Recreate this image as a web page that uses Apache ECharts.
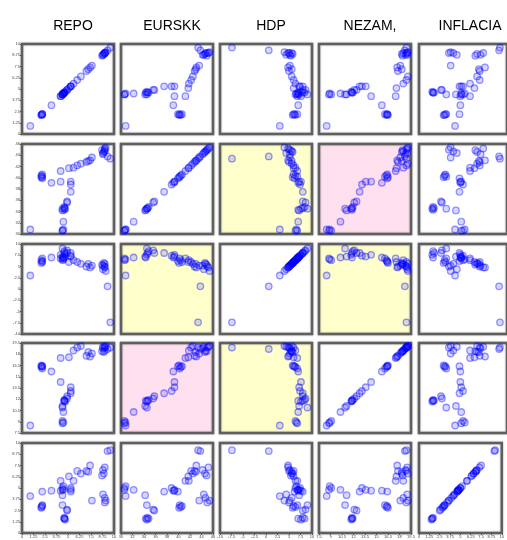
<!DOCTYPE html>
<html><head><meta charset="utf-8">
<script src="https://cdn.jsdelivr.net/npm/echarts@6/dist/echarts.min.js"></script>
<style>html,body{margin:0;padding:0;background:#fff}#c{width:507px;height:540px}</style>
</head><body><div id="c"></div>
<script>
const varNames = ['REPO','EURSKK','HDP','NEZAM,','INFLACIA'];
const REPO     = [9.6,9.3,9.1,9.0,9.0,8.8,8.9,8.8,9.0,8.7,7.6,7.4,7.2,7.0,6.4,6.0,5.6,5.1,4.2,2.2,2.1,2.2,2.1,2.2,3.2,4.2,5.3,5.3,5.3,4.9,4.9,4.6,4.6,4.7,4.6,4.4,4.5,4.4,4.5,4.4,0.9,4.4];
const EURSKK   = [43.4,43.8,45.4,45.0,44.7,44.4,44.6,44.2,45.2,44.9,43.6,43.1,43.0,42.8,42.5,42.2,41.8,41.7,41.2,40.6,40.4,40.2,40.1,39.9,39.1,39.3,39.3,38.8,37.5,35.8,35.6,34.8,34.6,34.5,34.3,34.5,32.2,30.6,30.8,30.6,30.8,34.2];
const HDP      = [-7.4,0.6,4.0,5.0,5.6,4.4,5.8,5.2,4.8,5.4,5.2,4.8,5.6,5.0,5.6,6.0,6.4,6.0,6.8,6.0,6.4,6.8,5.8,6.2,7.0,7.6,7.2,7.4,8.0,8.0,8.6,8.4,8.0,7.6,7.0,9.0,7.0,6.8,6.6,6.4,3.0,7.2];
const NEZAM    = [18.9,18.7,19.1,18.9,18.5,19.0,18.3,18.8,19.0,18.4,18.1,17.7,18.3,17.8,19.1,18.9,18.5,17.6,17.5,16.4,16.3,16.1,16.5,16.4,15.7,14.3,13.6,13.1,12.8,12.4,12.1,11.9,11.8,11.7,11.8,10.9,10.3,8.8,8.9,9.1,8.5,11.1];
const INFLACIA = [9.2,9.1,3.6,3.4,3.9,4.3,6.6,7.0,7.3,6.4,3.6,7.5,6.8,6.9,6.6,6.9,5.8,6.3,5.8,3.0,2.9,3.1,2.8,4.6,4.7,4.7,4.8,5.0,4.6,2.5,2.6,1.6,1.7,1.5,1.6,3.1,4.8,4.8,5.2,5.0,4.1,4.2];
const series = [REPO, EURSKK, HDP, NEZAM, INFLACIA];
const axisMin  = [0, 30, -10, 7.5, 0];
const axisMax  = [10, 46, 10, 19.5, 10];
const axisStep = [1.25, 2, 2.5, 1.5, 1.25];
const yellowCells = ['1,2','2,1','2,3','3,2'];
const pinkCells = ['1,3','3,1'];

const colLeft = [22,121,220,319,419];
const rowTop  = [44,144,244,343,443];
const W = 92, H = 90;

const grids = [], xAxes = [], yAxes = [], ser = [], titles = [];
let k = 0;
for (let r = 0; r < 5; r++) {
  for (let c = 0; c < 5; c++) {
    const key = r + ',' + c;
    let bg = '#ffffff';
    if (yellowCells.includes(key)) bg = '#ffffcc';
    if (pinkCells.includes(key)) bg = '#ffe0ee';
    grids.push({left: colLeft[c], top: rowTop[r], width: W, height: H, show: true,
      backgroundColor: bg, borderColor: '#5f5f5f', borderWidth: 2.5,
      shadowColor: 'rgba(0,0,0,0.35)', shadowBlur: 2});
    xAxes.push({gridIndex: k, type: 'value', min: axisMin[c], max: axisMax[c], interval: axisStep[c],
      axisLine: {show: false}, splitLine: {show: false},
      axisTick: {show: r === 4, length: 2, lineStyle: {color: '#555'}},
      axisLabel: {show: r === 4, fontSize: 4, color: '#444', margin: 2, fontFamily: 'Liberation Sans'}});
    yAxes.push({gridIndex: k, type: 'value', min: axisMin[r], max: axisMax[r], interval: axisStep[r],
      axisLine: {show: false}, splitLine: {show: false},
      axisTick: {show: c === 0, length: 2, lineStyle: {color: '#555'}},
      axisLabel: {show: c === 0, fontSize: 4, color: '#444', margin: 2, fontFamily: 'Liberation Sans'}});
    const xs = series[c], ys = series[r];
    ser.push({type: 'scatter', xAxisIndex: k, yAxisIndex: k, symbol: 'circle', symbolSize: 6.5,
      data: xs.map((v, i) => [v, ys[i]]),
      itemStyle: {color: 'rgba(0,0,255,0.2)', borderColor: 'rgba(0,0,255,0.5)', borderWidth: 1.3},
      silent: true, animation: false});
    k++;
  }
}
for (let c = 0; c < 5; c++) {
  titles.push({text: varNames[c], left: colLeft[c] + W/2, top: 14, textAlign: 'center',
    textStyle: {fontSize: 14, fontWeight: 'normal', color: '#000', fontFamily: 'Liberation Sans'}});
}
const chart = echarts.init(document.getElementById('c'), null, {renderer: 'canvas'});
chart.setOption({animation: false, title: titles, grid: grids, xAxis: xAxes, yAxis: yAxes, series: ser});
</script></body></html>
